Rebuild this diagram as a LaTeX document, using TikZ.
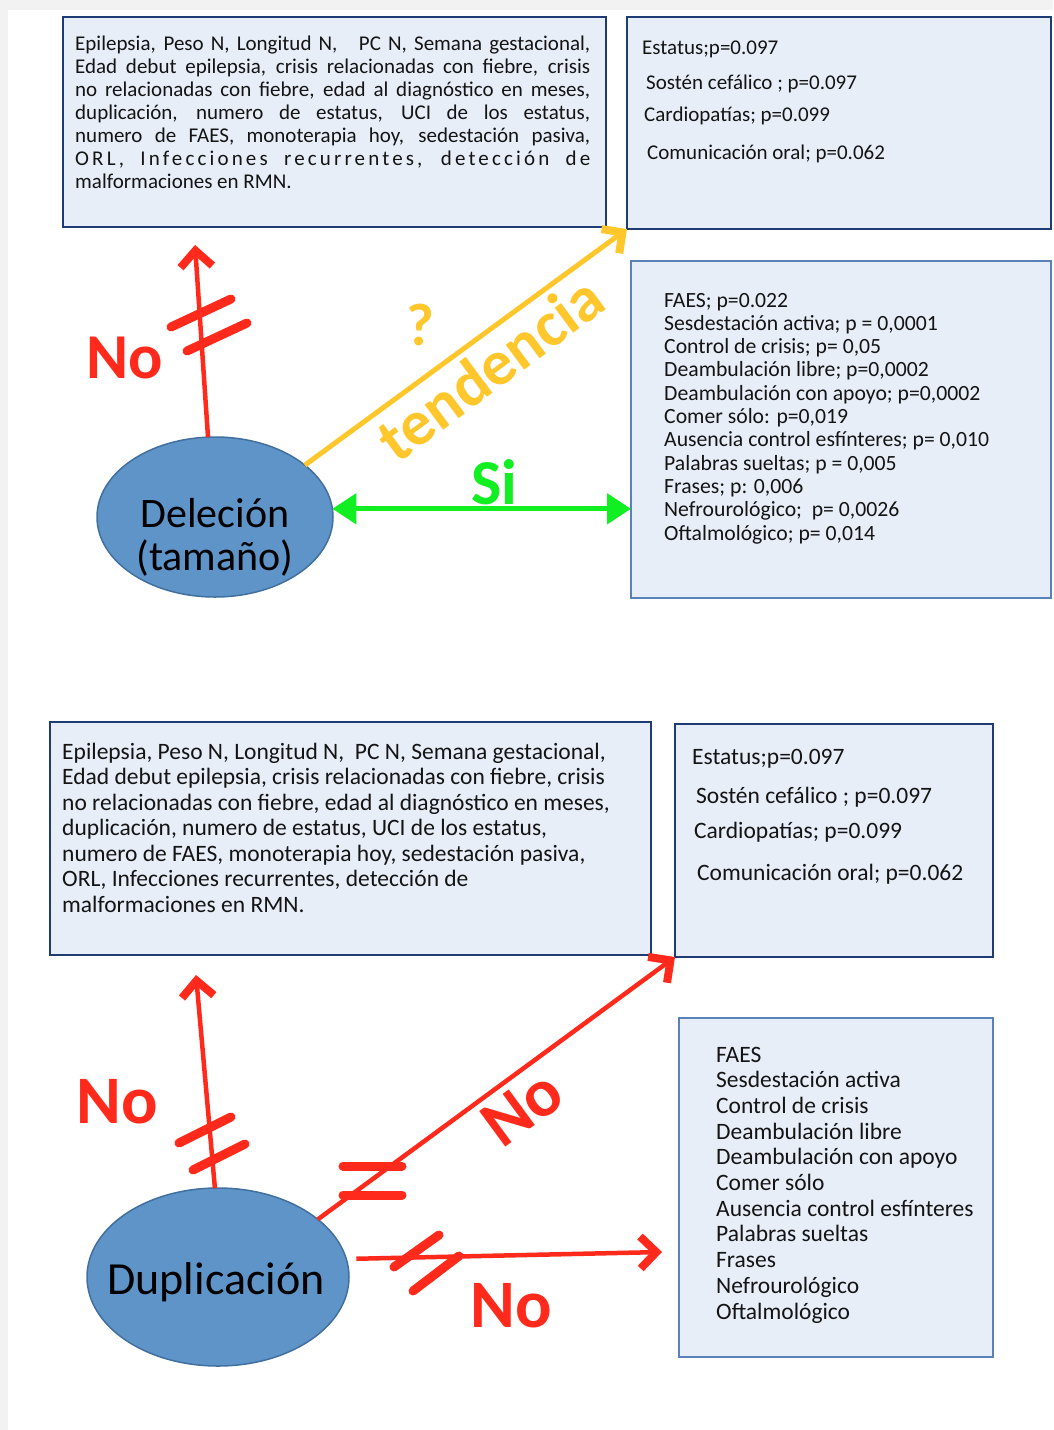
\documentclass[tikz,border=0pt]{standalone}
\usepackage{fontspec}
\setmainfont{Carlito}
\usetikzlibrary{shapes.geometric,arrows.meta}
\definecolor{boxfill}{HTML}{E7EEF8}
\definecolor{navy}{HTML}{1F3B73}
\definecolor{lblue}{HTML}{5B82B8}
\definecolor{ellfill}{HTML}{5E94C8}
\definecolor{elldraw}{HTML}{41709F}
\definecolor{nored}{HTML}{FF2A1C}
\definecolor{tyellow}{HTML}{FFC72C}
\definecolor{sigreen}{HTML}{11EE22}
\definecolor{pagegray}{HTML}{F2F2F2}
\definecolor{txtcol}{HTML}{141414}
\newcommand{\jline}[1]{\makebox[515pt][s]{#1}}
\begin{document}
\begin{tikzpicture}[x=1pt,y=-1pt,
  darkbox/.style={rectangle, draw=navy, line width=2.6pt, fill=boxfill, inner sep=0pt, outer sep=0pt, anchor=north west},
  lightbox/.style={rectangle, draw=lblue, line width=2.2pt, fill=boxfill, inner sep=0pt, outer sep=0pt, anchor=north west},
  txt/.style={anchor=base west, inner sep=0pt, text=txtcol},
  topfont/.style={font=\fontsize{21}{23}\selectfont},
  midfont/.style={font=\fontsize{21.7}{23}\selectfont},
  botfont/.style={font=\fontsize{23.5}{25}\selectfont},
  blob/.style={ellipse, draw=elldraw, line width=1.5pt, fill=ellfill, inner sep=0pt, outer sep=0pt},
  blobtext/.style={anchor=base, inner sep=0pt, text=black},
  redarrow/.style={draw=nored, line width=4.5pt, -{Straight Barb[length=16pt,width=32pt,line width=8pt]}},
  yelarrow/.style={draw=tyellow, line width=5pt, -{Straight Barb[length=15pt,width=30pt,line width=8pt]}},
  grnarrow/.style={draw=sigreen, line width=5pt, {Triangle[length=24pt,width=30pt]}-{Triangle[length=24pt,width=30pt]}},
  tick/.style={draw=nored, line width=9pt, line cap=round},
  nolabel/.style={text=nored, font=\fontsize{64}{64}\bfseries\selectfont, inner sep=0pt},
  biglabel/.style={font=\fontsize{64}{64}\bfseries\selectfont, inner sep=0pt}
]
\useasboundingbox (0,0) rectangle (1053,1430);
\fill[white] (0,0) rectangle (1053,1430);
\fill[pagegray] (0,0) rectangle (1053,10);
\fill[pagegray] (0,0) rectangle (8,1430);

% ---------- top part ----------
\node[darkbox, minimum width=543, minimum height=210] (tl) at (63,17) {};
\node[darkbox, minimum width=424, minimum height=212] (tr) at (627,17) {};
\node[lightbox, minimum width=420, minimum height=337] (mr) at (631,261) {};

\foreach \s [count=\i] in {
  {\jline{Epilepsia, Peso N, Longitud N,\ \ \ PC N, Semana gestacional,}},
  {\jline{Edad debut epilepsia, crisis relacionadas con fiebre, crisis}},
  {\jline{no relacionadas con fiebre, edad al diagnóstico en meses,}},
  {\jline{duplicación, numero de estatus, UCI de los estatus,}},
  {\jline{numero de FAES, monoterapia hoy, sedestación pasiva,}},
  {\jline{\addfontfeatures{LetterSpace=15}ORL, Infecciones recurrentes, detección de}},
  {malformaciones en RMN.}}
  \node[txt, topfont] (tlt\i) at (75,{50+23.1*(\i-1)}) {\s};

\node[txt, topfont] (tr1) at (642,54) {Estatus;p=0.097};
\node[txt, topfont] (tr2) at (646,89) {Sostén cefálico ; p=0.097};
\node[txt, topfont] (tr3) at (644,121) {Cardiopatías; p=0.099};
\node[txt, topfont] (tr4) at (647,159) {Comunicación oral; p=0.062};

\foreach \s [count=\i] in {
  {FAES; p=0.022},
  {Sesdestación activa; p = 0,0001},
  {Control de crisis; p= 0,05},
  {Deambulación libre; p=0,0002},
  {Deambulación con apoyo; p=0,0002},
  {Comer sólo: p=0,019},
  {Ausencia control esfínteres; p= 0,010},
  {Palabras sueltas; p = 0,005},
  {Frases; p: 0,006},
  {Nefrourológico;\ \ p= 0,0026},
  {Oftalmológico; p= 0,014}}
  \node[txt, midfont] (mrt\i) at (664,{307+23.3*(\i-1)}) {\s};

\node[blob, minimum width=236, minimum height=160] (del) at (215,517) {};
\node[blobtext, font=\fontsize{42}{42}\selectfont] (delt1) at (215,527) {Deleción};
\node[blobtext, font=\fontsize{42}{42}\selectfont] (delt2) at (215,570) {(tamaño)};

\coordinate (delup) at (195,245);
\draw[redarrow] (del.95) -- (delup);
\draw[tick] (171,327) -- (231,299);
\draw[tick] (187,351) -- (247,323);
\node[nolabel] (no1) at (125,358) {No};

\draw[yelarrow] (del.30) -- (tr.south west);
\node[biglabel, text=tyellow, rotate=36.6] (tend) at (490,368) {tendencia};
\node[biglabel, text=tyellow, font=\fontsize{60}{60}\bfseries\selectfont] (qm) at (420,325) {?};

\draw[grnarrow] (del.4) -- (del.4 -| mr.west);
\node[biglabel, text=sigreen] (si) at (494,482) {Si};

% ---------- bottom part ----------
\node[darkbox, minimum width=601, minimum height=233] (bl) at (50,722) {};
\node[darkbox, minimum width=318, minimum height=233] (br1) at (675,724) {};
\node[lightbox, minimum width=314, minimum height=339] (br2) at (679,1018) {};

\foreach \s [count=\i] in {
  {Epilepsia, Peso N, Longitud N,\ \ PC N, Semana gestacional,},
  {Edad debut epilepsia, crisis relacionadas con fiebre, crisis},
  {no relacionadas con fiebre, edad al diagnóstico en meses,},
  {duplicación, numero de estatus, UCI de los estatus,},
  {numero de FAES, monoterapia hoy, sedestación pasiva,},
  {ORL, Infecciones recurrentes, detección de},
  {malformaciones en RMN.}}
  \node[txt, botfont] (blt\i) at (62,{759+25.5*(\i-1)}) {\s};

\node[txt, botfont] (br1t1) at (692,764) {Estatus;p=0.097};
\node[txt, botfont] (br1t2) at (696,803) {Sostén cefálico ; p=0.097};
\node[txt, botfont] (br1t3) at (694,838) {Cardiopatías; p=0.099};
\node[txt, botfont] (br1t4) at (697,880) {Comunicación oral; p=0.062};

\foreach \s [count=\i] in {
  {FAES}, {Sesdestación activa}, {Control de crisis}, {Deambulación libre},
  {Deambulación con apoyo}, {Comer sólo}, {Ausencia control esfínteres},
  {Palabras sueltas}, {Frases}, {Nefrourológico}, {Oftalmológico}}
  \node[txt, botfont] (br2t\i) at (716,{1062+25.7*(\i-1)}) {\s};

\node[blob, minimum width=262, minimum height=178] (dup) at (218,1277) {};
\node[blobtext, font=\fontsize{46}{46}\selectfont] (dupt) at (216,1294) {Duplicación};

\coordinate (dupup) at (196,975);
\draw[redarrow] (dup.92) -- (dupup);
\draw[tick] (179,1143) -- (231,1117);
\draw[tick] (193,1170) -- (245,1144);
\node[nolabel, font=\fontsize{68}{68}\bfseries\selectfont] (no2) at (117,1102) {No};

\draw[redarrow] (dup.30) -- (br1.south west);
\draw[tick] (343,1166) -- (402,1166);
\draw[tick] (343,1195) -- (402,1195);
\node[nolabel, font=\fontsize{68}{68}\bfseries\selectfont, rotate=36.3] (no3) at (522,1108) {No};

\coordinate (dupright) at (662,1252);
\draw[redarrow, shorten <=10pt] (dup.8) -- (dupright);
\draw[tick] (394,1267) -- (439,1235);
\draw[tick] (413,1291) -- (459,1256);
\node[nolabel, font=\fontsize{68}{68}\bfseries\selectfont] (no4) at (511,1306) {No};
\end{tikzpicture}
\end{document}
